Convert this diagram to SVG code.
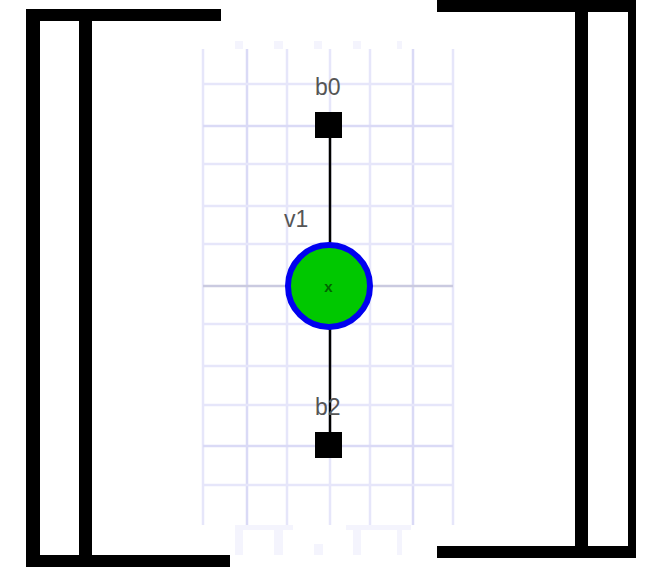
<svg xmlns="http://www.w3.org/2000/svg" width="654" height="571" viewBox="0 0 654 571">
<style>
.bk{fill:#000}
.g1{stroke:#e6e6fa;stroke-width:2.5}
.g2{stroke:#dadaf6;stroke-width:2.5}
.ax{stroke:#cacae0;stroke-width:2.5}
.tk{fill:#f4f4fd}
.lbl{font-family:"Liberation Sans",Arial,sans-serif;font-size:23px;fill:#555}
.edge{stroke:#000;stroke-width:2.5}
</style>
<rect width="654" height="571" fill="#fff"/>
<g id="grid">
<line class="g1" x1="203" y1="49" x2="203" y2="525"/>
<line class="g2" x1="247" y1="49" x2="247" y2="525"/>
<line class="g1" x1="287" y1="49" x2="287" y2="525"/>
<line class="g1" x1="330" y1="49" x2="330" y2="525"/>
<line class="g1" x1="370" y1="49" x2="370" y2="525"/>
<line class="g2" x1="413" y1="49" x2="413" y2="525"/>
<line class="g1" x1="453" y1="49" x2="453" y2="525"/>
<line class="g1" x1="203" y1="84" x2="453" y2="84"/>
<line class="g2" x1="203" y1="126" x2="453" y2="126"/>
<line class="g1" x1="203" y1="164" x2="453" y2="164"/>
<line class="g1" x1="203" y1="206" x2="453" y2="206"/>
<line class="g1" x1="203" y1="244" x2="453" y2="244"/>
<line class="ax" x1="203" y1="286" x2="453" y2="286"/>
<line class="g1" x1="203" y1="324" x2="453" y2="324"/>
<line class="g1" x1="203" y1="366" x2="453" y2="366"/>
<line class="g1" x1="203" y1="405" x2="453" y2="405"/>
<line class="g2" x1="203" y1="446" x2="453" y2="446"/>
<line class="g1" x1="203" y1="485" x2="453" y2="485"/>
<rect class="tk" x="235" y="41" width="8" height="8"/>
<rect class="tk" x="274" y="41" width="9" height="8"/>
<rect class="tk" x="314" y="41" width="8" height="8"/>
<rect class="tk" x="353" y="41" width="8" height="8"/>
<rect class="tk" x="397" y="41" width="5" height="8"/>
<rect class="tk" x="235" y="525" width="58" height="5"/>
<rect class="tk" x="235" y="525" width="8" height="30"/>
<rect class="tk" x="274" y="525" width="9" height="30"/>
<rect class="tk" x="314" y="544" width="9" height="11"/>
<rect class="tk" x="346" y="525" width="65" height="5"/>
<rect class="tk" x="353" y="525" width="8" height="30"/>
<rect class="tk" x="397" y="525" width="5" height="30"/>
</g>
<g id="bracket-left">
<rect class="bk" x="26" y="9" width="14" height="558"/>
<rect class="bk" x="26" y="9" width="195" height="12"/>
<rect class="bk" x="79" y="21" width="13" height="534"/>
<rect class="bk" x="26" y="555" width="204" height="12"/>
</g>
<g id="bracket-right">
<rect class="bk" x="437" y="0" width="199" height="12"/>
<rect class="bk" x="575" y="12" width="13" height="534"/>
<rect class="bk" x="628" y="0" width="8" height="558"/>
<rect class="bk" x="437" y="546" width="199" height="12"/>
</g>
<g id="connectors">
<line class="edge" x1="330" y1="138" x2="330" y2="244"/>
<line class="edge" x1="330" y1="328" x2="330" y2="432"/>
</g>
<g id="b0">
<rect x="315" y="112" width="27" height="26" fill="#000"/>
<text class="lbl" x="315" y="95">b0</text>
</g>
<g id="v1">
<circle cx="329" cy="286" r="41" fill="#00c800" stroke="#0000f0" stroke-width="6"/>
<text x="328.5" y="292" font-family="Liberation Sans,Arial,sans-serif" font-size="15" font-weight="bold" fill="#006400" text-anchor="middle">x</text>
<text class="lbl" x="284" y="227">v1</text>
</g>
<g id="b2">
<rect x="315" y="432" width="27" height="26" fill="#000"/>
<text class="lbl" x="315" y="415">b2</text>
</g>
</svg>
